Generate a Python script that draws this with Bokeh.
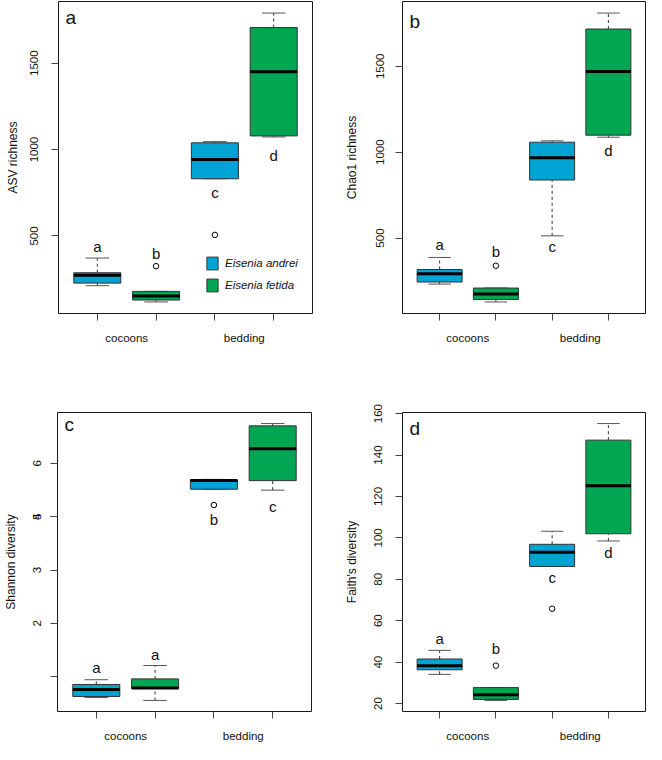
import math
from bokeh.plotting import figure
from bokeh.models import Range1d, FixedTicker, Label, Legend, LegendItem, ColumnDataSource
from bokeh.layouts import column, row
from bokeh.embed import file_html
from bokeh.resources import INLINE
from bokeh.core.properties import value

# ---------------- data ----------------
positions = [1, 2, 3, 4]
species = ["Eisenia andrei", "Eisenia fetida", "Eisenia andrei", "Eisenia fetida"]
group_names = ["cocoons", "bedding"]
group_centers = [1.5, 3.5]

# (a) ASV richness
asv_lo = [212, 118, 831, 1073]
asv_q1 = [227, 129, 831, 1079]
asv_med = [272, 152, 942, 1450]
asv_q3 = [287, 179, 1039, 1706]
asv_hi = [372, 179, 1046, 1790]
asv_out_x = [2, 3]
asv_out_y = [325, 506]
asv_letters = ["a", "b", "c", "d"]
asv_letter_y = [412, 368, 723, 939]
asv_ticks = [500, 1000, 1500]

# (b) Chao1 richness
chao_lo = [232, 128, 513, 1087]
chao_q1 = [244, 142, 838, 1099]
chao_med = [292, 174, 967, 1470]
chao_q3 = [317, 209, 1058, 1717]
chao_hi = [387, 209, 1066, 1810]
chao_out_x = [2]
chao_out_y = [339]
chao_letters = ["a", "b", "c", "d"]
chao_letter_y = [432, 394, 423, 979]
chao_ticks = [500, 1000, 1500]

# (c) Shannon diversity (axis labelled as printed in the original)
shan_lo = [1.61, 1.556, 5.516, 5.498]
shan_q1 = [1.63, 1.78, 5.516, 5.677]
shan_med = [1.76, 1.79, 5.68, 6.274]
shan_q3 = [1.855, 1.96, 5.69, 6.704]
shan_hi = [1.944, 2.21, 5.70, 6.747]
shan_out_x = [3]
shan_out_y = [5.22]
shan_letters = ["a", "a", "b", "c"]
shan_letter_y = [2.075, 2.33, 4.853, 5.09]
shan_ticks = [2, 3, 4, 5, 6]
shan_tick_text = ["", "2", "3", "5", "6"]
shan_overprint_tick = 5
shan_overprint_text = "4"

# (d) Faith's diversity
faith_lo = [34.1, 21.5, 86.2, 98.5]
faith_q1 = [36.3, 22.0, 86.2, 102.0]
faith_med = [38.2, 24.3, 93.1, 125.2]
faith_q3 = [41.5, 27.7, 96.9, 147.2]
faith_hi = [45.7, 27.7, 103.2, 155.2]
faith_out_x = [2, 3]
faith_out_y = [38.3, 65.8]
faith_letters = ["a", "b", "c", "d"]
faith_letter_y = [49.2, 44.2, 78.3, 90.6]
faith_ticks = [20, 40, 60, 80, 100, 120, 140, 160]

# ---------------- style ----------------
FONT = "Liberation Sans"
BLUE = "#00A3D4"
GREEN = "#00A651"
COLORS = {"Eisenia andrei": BLUE, "Eisenia fetida": GREEN}
W_LEFT, W_RIGHT = 330, 316
H_TOP, H_BOTTOM = 372, 372
TXT_SHIFT = 5


def panel(size, borders, lo, q1, med, q3, hi, ox, oy, letters, letter_y, ticks, ylabel,
          tick_standoff, title_standoff, panel_letter, letter_base,
          tick_overrides=None, legend=False):
    W, H = size
    bl, br, bt, bb = borders
    vals = lo + hi + oy
    vmin, vmax = min(vals), max(vals)
    pad = 0.04 * (vmax - vmin)
    p = figure(width=W, height=H, x_range=Range1d(0.34, 4.66),
               y_range=Range1d(vmin - pad, vmax + pad),
               output_backend="svg", toolbar_location=None, tools="",
               min_border_left=bl, min_border_right=br,
               min_border_top=bt, min_border_bottom=bb)
    p.grid.visible = False
    p.outline_line_color = "#1a1a1a"
    p.outline_line_width = 1
    p.background_fill_color = "white"
    p.border_fill_color = "white"

    # x axis: minor ticks at box positions, labels at group centers
    xa = p.xaxis[0]
    xa.ticker = FixedTicker(ticks=group_centers, minor_ticks=positions)
    xa.major_label_overrides = {c: n for c, n in zip(group_centers, group_names)}
    xa.major_tick_out = 0
    xa.major_tick_in = 0
    xa.minor_tick_out = 7
    xa.minor_tick_in = 0
    xa.minor_tick_line_color = "#444444"
    xa.axis_line_color = None
    xa.major_label_standoff = 11
    xa.major_label_text_font = FONT
    xa.major_label_text_font_size = "11.5px"
    xa.major_label_text_color = "#111111"

    ya = p.yaxis[0]
    ya.ticker = FixedTicker(ticks=ticks, minor_ticks=[])
    if tick_overrides:
        ya.major_label_overrides = tick_overrides
    ya.major_tick_out = 7
    ya.major_tick_in = 0
    ya.major_tick_line_color = "#444444"
    ya.minor_tick_out = 0
    ya.minor_tick_in = 0
    ya.axis_line_color = None
    ya.major_label_orientation = "vertical"
    ya.major_label_standoff = tick_standoff
    ya.major_label_text_font = FONT
    ya.major_label_text_font_size = "11.5px"
    ya.major_label_text_color = "#111111"
    ya.axis_label = ylabel
    ya.axis_label_standoff = title_standoff
    ya.axis_label_text_font = FONT
    ya.axis_label_text_font_style = "normal"
    ya.axis_label_text_font_size = "12px"
    ya.axis_label_text_color = "#111111"

    xs = positions
    # whiskers
    p.segment(x0=xs, y0=q3, x1=xs, y1=hi, line_color="#333333", line_width=1, line_dash="3 3")
    p.segment(x0=xs, y0=lo, x1=xs, y1=q1, line_color="#333333", line_width=1, line_dash="3 3")
    # caps
    p.segment(x0=[x - 0.2 for x in xs], y0=hi, x1=[x + 0.2 for x in xs], y1=hi,
              line_color="#555555", line_width=1)
    p.segment(x0=[x - 0.2 for x in xs], y0=lo, x1=[x + 0.2 for x in xs], y1=lo,
              line_color="#555555", line_width=1)
    # boxes
    rend = {}
    for sp in ["Eisenia andrei", "Eisenia fetida"]:
        idx = [i for i, s in enumerate(species) if s == sp]
        src = ColumnDataSource(dict(x=[xs[i] for i in idx], top=[q3[i] for i in idx],
                                    bottom=[q1[i] for i in idx]))
        rend[sp] = p.vbar(x="x", top="top", bottom="bottom", width=0.8, source=src,
                          fill_color=COLORS[sp], line_color="#333333", line_width=1)
    # medians
    p.segment(x0=[x - 0.4 for x in xs], y0=med, x1=[x + 0.4 for x in xs], y1=med,
              line_color="black", line_width=3, line_cap="butt")
    # outliers
    if ox:
        p.scatter(x=ox, y=oy, marker="circle", size=5.5, fill_color=None,
                  line_color="black", line_width=1)
    # significance letters
    p.text(x=xs, y=letter_y, text=letters, text_align="center", text_baseline="alphabetic",
           text_font=value(FONT), text_font_size="15px", text_color="#111111",
           y_offset=-TXT_SHIFT)

    frame_h = H - bt - bb
    p.add_layout(Label(x=7, y=frame_h - letter_base + TXT_SHIFT, x_units="screen", y_units="screen",
                       text=panel_letter, text_font=FONT, text_font_size="19px",
                       text_align="left", text_baseline="alphabetic", text_color="#111111"))

    if legend:
        lg = Legend(items=[LegendItem(label="Eisenia andrei", renderers=[rend["Eisenia andrei"]]),
                           LegendItem(label="Eisenia fetida", renderers=[rend["Eisenia fetida"]])],
                    location=(147, 20.5), padding=0, margin=0, spacing=6,
                    glyph_width=14, glyph_height=16, label_standoff=6,
                    border_line_color=None, background_fill_alpha=0,
                    label_text_font=FONT, label_text_font_style="italic",
                    label_text_font_size="11.5px", label_text_color="#111111")
        p.add_layout(lg)
    return p


pa = panel((W_LEFT, H_TOP), (58, 18, 1, 59), asv_lo, asv_q1, asv_med, asv_q3, asv_hi,
           asv_out_x, asv_out_y, asv_letters, asv_letter_y, asv_ticks, "ASV richness",
           13, 8, "a", 20.5, legend=True)
pb = panel((W_RIGHT, H_TOP), (72, 1, 1, 59), chao_lo, chao_q1, chao_med, chao_q3, chao_hi,
           chao_out_x, chao_out_y, chao_letters, chao_letter_y, chao_ticks, "Chao1 richness",
           11, 15, "b", 24.5)

# Shannon axis: the printed labels, with "4" overprinted on "5" (a second tick at the same spot)
over_tick = shan_overprint_tick + 1e-6
shan_ticker_ticks = shan_ticks + [over_tick]
shan_overrides = {t: s for t, s in zip(shan_ticks, shan_tick_text)}
shan_overrides[over_tick] = shan_overprint_text
pc = panel((W_LEFT, H_BOTTOM), (56, 19, 40, 28), shan_lo, shan_q1, shan_med, shan_q3, shan_hi,
           shan_out_x, shan_out_y, shan_letters, shan_letter_y, shan_ticker_ticks,
           "Shannon diversity", 9, 13, "c", 21.5, tick_overrides=shan_overrides)
pd = panel((W_RIGHT, H_BOTTOM), (72, 1, 40, 28), faith_lo, faith_q1, faith_med, faith_q3, faith_hi,
           faith_out_x, faith_out_y, faith_letters, faith_letter_y, faith_ticks,
           "Faith's diversity", 13, 13, "d", 25.5)

layout = column(row(pa, pb), row(pc, pd))
open("out.html", "w").write(file_html(layout, INLINE))
